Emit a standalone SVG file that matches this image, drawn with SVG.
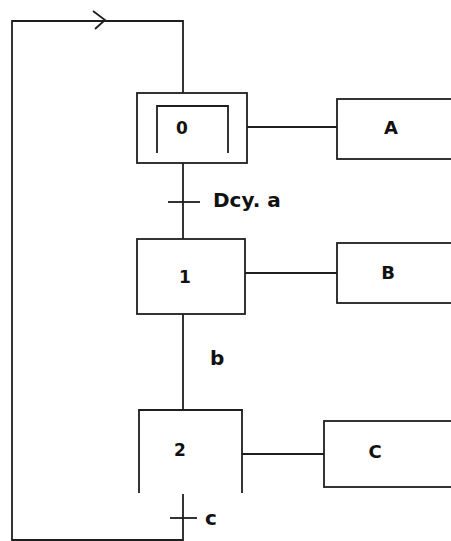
<svg xmlns="http://www.w3.org/2000/svg" width="451" height="541" viewBox="0 0 451 541">
  <style>
    .ln { fill: none; stroke: #1e1e1e; stroke-width: 1.8; }
    .box { fill: #fff; stroke: #1e1e1e; stroke-width: 1.8; }
    .lbl { font-family: "DejaVu Sans", Verdana, sans-serif; font-weight: bold; font-size: 17px; fill: #111; }
    .act { font-size: 18px; }
    .cond { font-size: 20px; }
  </style>

  <rect width="451" height="541" fill="#fff"/>

  <!-- links between steps, actions and the return loop -->
  <g id="connectors">
    <!-- return loop from step 2 back to step 0 -->
    <polyline class="ln" points="183,494 183,540 12,540 12,21 183,21 183,93"/>
    <polyline class="ln" points="93,11 105,20 95,29"/>
    <!-- step 0 to step 1 with transition Dcy. a -->
    <line class="ln" x1="183" y1="163" x2="183" y2="239"/>
    <line class="ln" x1="168" y1="202" x2="200" y2="202"/>
    <!-- step 1 to step 2 (transition b) -->
    <line class="ln" x1="183" y1="314" x2="183" y2="410"/>
    <!-- transition c -->
    <line class="ln" x1="170" y1="518" x2="197" y2="518"/>
    <!-- action links -->
    <line class="ln" x1="247" y1="127" x2="337" y2="127"/>
    <line class="ln" x1="245" y1="273" x2="337" y2="273"/>
    <line class="ln" x1="242" y1="454" x2="324" y2="454"/>
  </g>

  <!-- initial step 0 -->
  <g id="step0">
    <rect class="box" x="137" y="93" width="110" height="70"/>
    <polyline class="ln" points="157,153 157,106 228,106 228,153"/>
    <text class="lbl" x="182" y="134" text-anchor="middle">0</text>
  </g>

  <g id="step1">
    <rect class="box" x="137" y="239" width="108" height="75"/>
    <text class="lbl" x="185" y="283" text-anchor="middle">1</text>
  </g>

  <g id="step2">
    <polyline class="ln" points="139,493 139,410 242,410 242,493"/>
    <text class="lbl" x="180" y="456" text-anchor="middle">2</text>
  </g>

  <g id="actionA">
    <rect class="box" x="337" y="99" width="130" height="60"/>
    <text class="lbl act" x="391" y="134" text-anchor="middle">A</text>
  </g>

  <g id="actionB">
    <rect class="box" x="337" y="243" width="130" height="60"/>
    <text class="lbl act" x="388" y="279" text-anchor="middle">B</text>
  </g>

  <g id="actionC">
    <rect class="box" x="324" y="421" width="140" height="66"/>
    <text class="lbl act" x="375" y="458" text-anchor="middle">C</text>
  </g>

  <!-- transition conditions -->
  <g id="conditions">
    <text class="lbl cond" x="213" y="207">Dcy. a</text>
    <text class="lbl cond" x="210" y="365">b</text>
    <text class="lbl cond" x="205" y="525">c</text>
  </g>
</svg>
